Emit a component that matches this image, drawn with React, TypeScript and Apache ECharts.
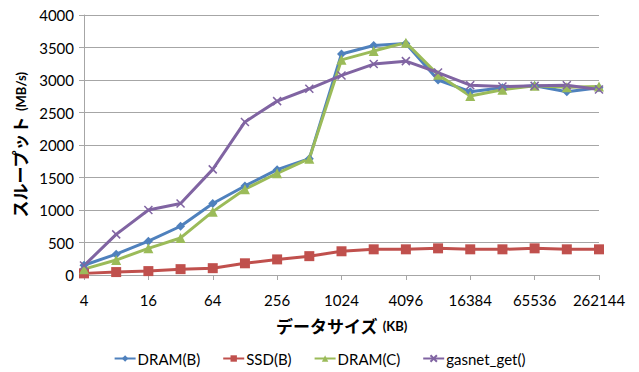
import React, { useEffect, useRef } from "react";
import * as echarts from "echarts";

const categories = ["4","8","16","32","64","128","256","512","1024","2048","4096","8192","16384","32768","65536","131072","262144"];
const dramB = [150, 320, 520, 750, 1100, 1370, 1620, 1790, 3400, 3530, 3560, 3000, 2820, 2880, 2910, 2820, 2880];
const ssdB = [25, 45, 60, 90, 105, 180, 240, 290, 365, 395, 395, 410, 395, 395, 410, 395, 395];
const dramC = [90, 230, 410, 570, 975, 1320, 1565, 1790, 3310, 3445, 3575, 3080, 2755, 2850, 2910, 2890, 2900];
const gasnet = [145, 625, 1000, 1100, 1625, 2355, 2675, 2865, 3070, 3245, 3290, 3115, 2920, 2900, 2910, 2920, 2855];
const seriesNames = ["DRAM(B)", "SSD(B)", "DRAM(C)", "gasnet_get()"];

const FONT = "Lato, 'Noto Sans CJK JP', sans-serif";
const JFONT = "'Noto Sans CJK JP', sans-serif";
const XSYM = "path://M0,0L10,10M10,0L0,10";

export default function App() {
  const ref = useRef<HTMLDivElement>(null);
  useEffect(() => {
    document.body.style.margin = "0";
    const chart = echarts.init(ref.current!, null, { renderer: "svg" });
    const mk = (name: string, data: number[], color: string, symbol: string, size: number) => ({
      name,
      type: "line",
      data,
      symbol,
      symbolSize: size,
      lineStyle: { color, width: 3 },
      itemStyle: { color, borderColor: color, borderWidth: symbol === XSYM ? 1.5 : 0 },
      emphasis: { disabled: true },
    });
    const nameRich = {
      j: { fontSize: 17, fontWeight: "bold", color: "#000", fontFamily: JFONT, lineHeight: 22, verticalAlign: "bottom" },
      e: { fontSize: 13, fontWeight: "bold", color: "#000", fontFamily: FONT, lineHeight: 22, verticalAlign: "bottom", padding: [0, 0, 1, 5] },
    };
    chart.setOption({
      animation: false,
      textStyle: { fontFamily: FONT },
      grid: { left: 84, right: 40, top: 15, bottom: 97 },
      legend: {
        top: 346,
        left: "center",
        itemWidth: 21,
        itemHeight: 8,
        itemGap: 22,
        textStyle: { fontSize: 15, color: "#000", fontFamily: FONT, padding: [0, 0, 0, -3] },
        data: seriesNames,
      },
      xAxis: {
        type: "category",
        data: categories,
        boundaryGap: false,
        name: "{j|データサイズ}{e|(KB)}",
        nameLocation: "middle",
        nameGap: 37,
        nameTextStyle: { rich: nameRich },
        axisLine: { lineStyle: { color: "#a6a6a6" } },
        axisTick: { interval: 1, length: 5, lineStyle: { color: "#a6a6a6" } },
        axisLabel: { interval: 1, fontSize: 15, color: "#000", margin: 17 },
        splitLine: { show: false },
      },
      yAxis: {
        type: "value",
        min: 0,
        max: 4000,
        interval: 500,
        name: "{j|スループット}{e|(MB/s)}",
        nameLocation: "middle",
        nameGap: 54,
        nameTextStyle: { rich: nameRich },
        axisLine: { show: true, lineStyle: { color: "#a6a6a6" } },
        axisTick: { show: true, length: 5, lineStyle: { color: "#a6a6a6" } },
        axisLabel: { fontSize: 15, color: "#000", margin: 10, formatter: (v: number) => String(v) },
        splitLine: { lineStyle: { color: "#a6a6a6", width: 1 } },
      },
      series: [
        mk(seriesNames[0], dramB, "#4F81BD", "diamond", 9),
        mk(seriesNames[1], ssdB, "#C0504D", "rect", 10),
        mk(seriesNames[2], dramC, "#9BBB59", "triangle", 10),
        mk(seriesNames[3], gasnet, "#8064A2", XSYM, 8),
      ],
    });
    return () => chart.dispose();
  }, []);
  return <div ref={ref} style={{ width: 639, height: 372 }} />;
}
